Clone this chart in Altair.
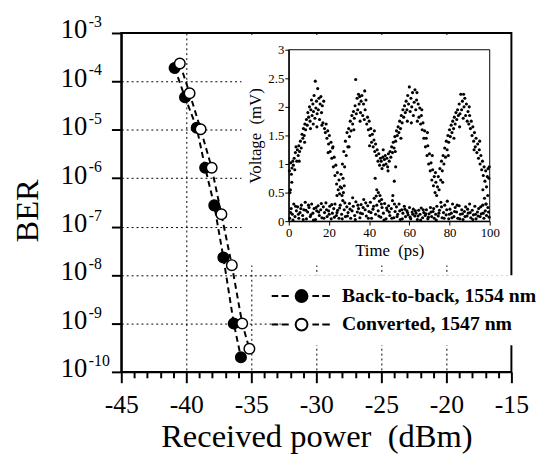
import altair as alt
import pandas as pd

# ---------------- main BER data ----------------
series_names = ["Back-to-back, 1554 nm", "Converted, 1547 nm"]
b2b_power = [-40.9, -40.1, -39.2, -38.55, -37.85, -37.15, -36.35, -35.8]
b2b_ber = [1.9e-4, 4.7e-5, 1.1e-5, 1.65e-6, 2.75e-7, 2.3e-8, 1.0e-9, 2.0e-10]
conv_power = [-40.5, -39.75, -38.9, -38.05, -37.3, -36.5, -35.7, -35.15]
conv_ber = [2.35e-4, 5.7e-5, 1.03e-5, 1.65e-6, 1.8e-7, 1.6e-8, 1.0e-9, 3.0e-10]

x_ticks = list(range(-45, -14))
y_decades = [1e-10, 1e-9, 1e-8, 1e-7, 1e-6, 1e-5, 1e-4, 1e-3]
y_exponents = ["-10", "-9", "-8", "-7", "-6", "-5", "-4", "-3"]

# ---------------- inset (waveform) data ----------------
inset_x_ticks = [0, 10, 20, 30, 40, 50, 60, 70, 80, 90, 100]
inset_y_ticks = [0, 0.5, 1, 1.5, 2, 2.5, 3]

inset_ones = [
    (0.3, 0.88), (0.8, 0.55), (1.0, 1.02), (1.3, 0.82), (1.6, 0.93), (2.0, 1.05), (2.3, 0.98), (2.7, 1.10),
    (3.0, 0.90), (3.3, 1.20), (3.6, 1.30), (4.0, 1.05), (4.3, 1.25), (4.7, 1.15), (5.0, 1.32), (5.4, 1.22),
    (5.8, 1.40), (6.2, 1.28), (6.6, 1.52), (7.0, 1.45), (7.3, 1.62), (7.7, 1.50), (8.0, 1.70), (8.4, 1.60),
    (8.8, 1.78), (9.2, 1.68), (9.5, 1.90), (9.9, 1.82), (10.3, 2.00), (10.6, 1.75),
    (11.0, 1.95), (11.3, 2.12), (11.6, 1.85), (12.0, 2.05), (12.3, 1.92), (12.6, 2.20), (13.0, 1.80),
    (13.2, 2.45), (13.5, 1.98), (13.8, 2.10), (14.1, 1.88), (14.4, 2.32), (14.7, 1.95), (15.0, 2.15),
    (15.3, 1.78), (15.6, 2.05), (16.0, 2.18), (16.3, 1.90), (16.7, 2.02), (17.0, 1.72),
    (17.4, 2.10), (17.8, 1.62), (18.2, 1.55), (18.6, 1.70), (19.0, 1.45), (19.4, 1.58), (19.8, 1.35),
    (20.2, 1.50), (20.6, 1.22), (21.0, 1.38), (21.4, 1.10), (21.8, 1.28), (22.2, 0.95), (22.6, 1.12),
    (23.0, 0.80), (23.4, 0.98), (23.8, 0.65), (24.2, 0.85), (24.6, 0.55), (25.0, 0.72), (25.3, 0.48), (25.6, 0.60),
    (26.0, 0.82), (26.3, 0.58), (26.7, 1.00), (27.0, 0.75), (27.4, 1.22), (27.8, 0.95), (28.2, 1.40),
    (28.6, 1.15), (29.0, 1.55), (29.4, 1.30), (29.8, 1.62), (30.2, 1.48), (30.6, 1.75), (31.0, 1.58),
    (31.4, 1.85), (31.8, 1.70), (32.2, 1.92), (32.6, 1.80), (33.0, 2.02), (33.3, 2.48), (33.6, 1.88),
    (34.0, 2.15), (34.3, 1.95), (34.7, 2.22), (35.0, 2.05), (35.3, 2.18), (35.7, 1.90), (36.0, 2.10),
    (36.4, 2.20), (36.8, 1.85), (37.2, 2.05), (37.6, 1.78), (38.0, 1.95), (38.4, 2.12), (38.8, 1.70),
    (39.2, 1.82), (39.6, 1.60), (40.0, 1.75), (40.4, 1.50), (40.8, 1.62), (41.2, 1.38), (41.6, 1.52),
    (42.0, 1.30), (42.4, 1.42), (42.8, 1.22), (43.2, 1.35), (43.6, 1.15), (44.0, 1.25), (44.4, 1.05),
    (44.8, 1.18), (45.2, 0.98), (45.6, 1.10),
    (46.0, 1.05), (46.4, 0.92), (46.8, 1.12), (47.2, 0.98), (47.6, 1.08), (48.0, 1.15), (48.4, 1.00),
    (48.8, 1.10), (49.2, 0.95), (49.6, 1.18), (50.0, 1.05), (50.4, 1.22), (50.8, 1.12),
    (51.2, 1.30), (51.6, 1.20), (52.0, 1.38), (52.4, 1.28), (52.8, 1.48), (53.2, 1.40), (53.6, 1.58),
    (54.0, 1.50), (54.4, 1.65), (54.8, 1.55), (55.2, 1.75), (55.6, 1.62), (56.0, 1.85), (56.4, 1.72),
    (56.8, 1.95), (57.2, 1.82), (57.6, 2.02), (58.0, 1.90),
    (58.4, 2.10), (58.8, 1.95), (59.2, 2.20), (59.6, 2.05), (60.0, 2.35), (60.4, 1.92), (60.8, 2.15),
    (61.2, 2.00), (61.6, 2.25), (62.0, 1.85), (62.4, 2.08), (62.8, 2.30), (63.2, 1.95), (63.6, 2.12),
    (64.0, 1.75), (64.4, 2.05), (64.8, 1.82), (65.2, 1.98),
    (65.6, 1.70), (66.0, 1.85), (66.4, 1.60), (66.8, 1.72), (67.2, 1.45), (67.6, 1.58), (68.0, 1.30),
    (68.4, 1.45), (68.8, 1.15), (69.2, 1.32), (69.6, 1.00), (70.0, 1.18), (70.4, 0.88), (70.8, 1.02),
    (71.2, 0.72), (71.6, 0.90), (72.0, 0.62), (72.4, 0.78), (72.8, 0.50), (73.2, 0.68), (73.6, 0.45),
    (74.0, 0.60), (74.4, 0.78), (74.8, 0.55), (75.2, 0.92), (75.6, 0.72), (76.0, 1.05), (76.4, 0.88),
    (76.8, 1.15), (77.2, 1.00), (77.6, 1.28), (78.0, 1.12), (78.4, 1.40), (78.8, 1.25), (79.2, 1.50),
    (79.6, 1.38), (80.0, 1.60), (80.4, 1.48), (80.8, 1.68), (81.2, 1.55), (81.6, 1.75), (82.0, 1.62),
    (82.4, 1.82), (82.8, 1.70), (83.2, 1.90), (83.6, 1.78), (84.0, 1.95), (84.4, 1.85),
    (84.8, 2.05), (85.2, 1.88), (85.6, 2.22), (86.0, 1.95), (86.4, 2.10), (86.8, 1.80), (87.2, 2.00),
    (87.6, 2.15), (88.0, 1.85), (88.4, 2.05), (88.8, 1.75), (89.2, 1.92), (89.6, 1.70),
    (90.0, 1.85), (90.4, 1.62), (90.8, 1.75), (91.2, 1.50), (91.6, 1.65), (92.0, 1.40), (92.4, 1.55),
    (92.8, 1.30), (93.2, 1.45), (93.6, 1.20), (94.0, 1.35), (94.4, 1.10), (94.8, 1.25), (95.2, 1.00),
    (95.6, 1.15), (96.0, 0.90), (96.4, 1.05), (96.8, 0.80), (97.2, 0.95), (97.6, 0.70), (98.0, 0.88),
    (98.4, 0.60), (98.8, 0.78), (99.2, 0.92), (99.6, 0.75),
    (5.2, 1.05), (7.9, 1.38), (10.8, 1.62), (12.2, 1.70), (14.0, 1.65), (16.5, 1.68), (19.6, 1.20),
    (22.0, 1.30), (24.0, 0.45), (27.6, 0.62), (30.0, 1.30), (32.4, 1.60), (35.5, 1.75), (37.8, 2.28),
    (40.2, 1.32), (42.6, 1.58), (47.0, 1.25), (49.4, 0.88), (53.0, 1.22), (55.8, 1.45), (59.0, 1.75),
    (61.0, 1.72), (63.8, 2.25), (66.2, 1.95), (69.0, 1.55), (71.4, 1.15), (73.0, 0.85), (76.6, 0.68),
    (79.4, 1.15), (82.2, 1.45), (85.0, 1.65), (87.0, 2.22), (89.8, 2.00), (92.2, 1.25), (95.0, 1.40),
]

inset_zeros = [
    (0.5, 0.05), (1.2, 0.22), (1.8, 0.12), (2.5, 0.30), (3.1, 0.08), (3.8, 0.18), (4.4, 0.25), (5.0, 0.05),
    (5.6, 0.15), (6.3, 0.28), (6.9, 0.10), (7.5, 0.20), (8.2, 0.33), (8.8, 0.04), (9.4, 0.16), (10.1, 0.24),
    (10.7, 0.08), (11.4, 0.30), (12.0, 0.14), (12.6, 0.22), (13.3, 0.03), (13.9, 0.18), (14.6, 0.27),
    (15.2, 0.10), (15.9, 0.20), (16.5, 0.06), (17.2, 0.25), (17.8, 0.15), (18.5, 0.32), (19.1, 0.08),
    (19.8, 0.18), (20.4, 0.26), (21.1, 0.04), (21.7, 0.14), (22.4, 0.22), (23.0, 0.30), (23.7, 0.10),
    (24.3, 0.19), (25.0, 0.05), (25.6, 0.28), (26.3, 0.12), (26.9, 0.36), (27.6, 0.20), (28.2, 0.08),
    (28.9, 0.25), (29.5, 0.15), (30.2, 0.31), (30.8, 0.05), (31.5, 0.18), (32.1, 0.26), (32.8, 0.10),
    (33.4, 0.34), (34.1, 0.16), (34.7, 0.22), (35.4, 0.06), (36.0, 0.29), (36.7, 0.13), (37.3, 0.38),
    (38.0, 0.20), (38.6, 0.09), (39.3, 0.27), (39.9, 0.17), (40.6, 0.33), (41.2, 0.05), (41.9, 0.21),
    (42.5, 0.40), (43.2, 0.12), (43.8, 0.28), (44.5, 0.18), (45.1, 0.35), (45.8, 0.07), (46.4, 0.24),
    (47.1, 0.14), (47.7, 0.31), (48.4, 0.04), (49.0, 0.19), (49.7, 0.27), (50.3, 0.10), (51.0, 0.22),
    (51.6, 0.36), (52.3, 0.06), (52.9, 0.17), (53.6, 0.25), (54.2, 0.12), (54.9, 0.30), (55.5, 0.03),
    (56.2, 0.20), (56.8, 0.14), (57.5, 0.26), (58.1, 0.08), (58.8, 0.18), (59.4, 0.11), (60.1, 0.24),
    (60.7, 0.04), (61.4, 0.16), (62.0, 0.21), (62.7, 0.09), (63.3, 0.14), (64.0, 0.03), (64.6, 0.19),
    (65.3, 0.12), (65.9, 0.23), (66.6, 0.06), (67.2, 0.15), (67.9, 0.10), (68.5, 0.20), (69.2, 0.04),
    (69.8, 0.13), (70.5, 0.24), (71.1, 0.08), (71.8, 0.17), (72.4, 0.05), (73.1, 0.12), (73.7, 0.26),
    (74.4, 0.09), (75.0, 0.19), (75.7, 0.33), (76.3, 0.06), (77.0, 0.15), (77.6, 0.28), (78.3, 0.11),
    (78.9, 0.35), (79.6, 0.04), (80.2, 0.21), (80.9, 0.14), (81.5, 0.30), (82.2, 0.08), (82.8, 0.24),
    (83.5, 0.16), (84.1, 0.05), (84.8, 0.27), (85.4, 0.12), (86.1, 0.20), (86.7, 0.03), (87.4, 0.17),
    (88.0, 0.25), (88.7, 0.09), (89.3, 0.14), (90.0, 0.30), (90.6, 0.06), (91.3, 0.19), (91.9, 0.11),
    (92.6, 0.26), (93.2, 0.04), (93.9, 0.16), (94.5, 0.22), (95.2, 0.08), (95.8, 0.13), (96.5, 0.28),
    (97.1, 0.05), (97.8, 0.18), (98.4, 0.10), (99.1, 0.24), (99.7, 0.07),
    (0.9, 0.15), (2.1, 0.02), (3.4, 0.26), (4.8, 0.12), (6.0, 0.22), (7.2, 0.03), (8.5, 0.19), (9.8, 0.28),
    (11.0, 0.11), (12.3, 0.02), (13.6, 0.24), (14.9, 0.16), (16.2, 0.31), (17.5, 0.05), (18.8, 0.20),
    (20.1, 0.12), (21.4, 0.29), (22.7, 0.07), (24.0, 0.15), (25.3, 0.23), (26.6, 0.04), (27.9, 0.32),
    (29.2, 0.09), (30.5, 0.21), (31.8, 0.41), (33.1, 0.03), (34.4, 0.28), (35.7, 0.14), (37.0, 0.24),
    (38.3, 0.32), (39.6, 0.05), (40.9, 0.15), (42.2, 0.26), (43.5, 0.44), (44.8, 0.09), (46.1, 0.30),
    (47.4, 0.02), (48.7, 0.23), (50.0, 0.16), (51.3, 0.05), (52.6, 0.30), (53.9, 0.08), (55.2, 0.18),
    (56.5, 0.04), (57.8, 0.21), (59.1, 0.15), (60.4, 0.07), (61.7, 0.12), (63.0, 0.18), (64.3, 0.09),
    (65.6, 0.02), (66.9, 0.20), (68.2, 0.13), (69.5, 0.07), (70.8, 0.16), (72.1, 0.22), (73.4, 0.02),
    (74.7, 0.14), (76.0, 0.25), (77.3, 0.05), (78.6, 0.20), (79.9, 0.12), (81.2, 0.06), (82.5, 0.17),
    (83.8, 0.28), (85.1, 0.04), (86.4, 0.13), (87.7, 0.08), (89.0, 0.21), (90.3, 0.15), (91.6, 0.03),
    (92.9, 0.12), (94.2, 0.09), (95.5, 0.25), (96.8, 0.14), (98.1, 0.30), (99.4, 0.16),
]

inset_edges = [
    (0.6, 0.50), (1.5, 0.68), (26.5, 0.45), (27.2, 0.50), (43.0, 0.75), (43.8, 0.55), (44.6, 0.50),
    (45.4, 0.45), (46.2, 0.38), (51.8, 0.45), (52.5, 0.70), (53.2, 0.95), (96.6, 0.55), (97.4, 0.40),
    (98.2, 0.30), (99.0, 0.45), (99.8, 0.95),
]

# ---------------- frames ----------------
main_df = pd.DataFrame({
    "power": b2b_power + conv_power,
    "BER": b2b_ber + conv_ber,
    "series": [series_names[0]] * len(b2b_power) + [series_names[1]] * len(conv_power),
})
exp_df = pd.DataFrame({"BER": y_decades, "exponent": y_exponents})
wave = inset_ones + inset_zeros + inset_edges
wave_df = pd.DataFrame({"t": [p[0] for p in wave], "v": [p[1] for p in wave]})
one_row = pd.DataFrame({"k": [0]})

SERIF = "Liberation Serif"
NBSP = "\u00a0"

x_scale = alt.Scale(domain=[-45, -15], nice=False, zero=False)
y_scale = alt.Scale(type="log", domain=[1e-10, 1e-3], nice=False)

x_axis = alt.Axis(
    values=x_ticks,
    labelExpr="datum.value % 5 === 0 ? '' + datum.value : ''",
    tickSize={"condition": {"test": "datum.value % 5 === 0", "value": 11}, "value": 6},
    tickWidth=2, domainWidth=2, labelFontSize=26, labelPadding=9,
    labelFlush=False, labelOverlap=False,
    grid=True, gridDash=[2, 3], gridColor="black", gridWidth=1,
    gridOpacity={"condition": {"test": "datum.value % 5 === 0 && datum.value > -45 && datum.value < -15",
                               "value": 1}, "value": 0},
    title="Received power" + NBSP + " (dBm)", titleFontSize=33, titleY=76, titleBaseline="alphabetic",
)
y_axis = alt.Axis(
    values=y_decades, labelExpr="'10'",
    tickSize=10, tickWidth=2, domainWidth=2, labelFontSize=27, labelPadding=25, labelOffset=-3,
    labelOverlap=False, labelFlush=False,
    grid=True, gridDash=[2, 3], gridColor="black", gridWidth=1,
    gridOpacity={"condition": {"test": "datum.value > 2e-10 && datum.value < 5e-4", "value": 1}, "value": 0},
    title="BER", titleFontSize=33, titleX=-95, titleY=180, titleBaseline="middle", titleAlign="center",
)

legend_symbol = ("M-5.05,0L-3.95,0M-3.38,0L-2.17,0M1.83,0L2.95,0M3.5,0L4.78,0"
                 "M1,0A1,1,0,1,1,-1,0A1,1,0,1,1,1,0Z")

lines = alt.Chart(main_df).mark_line(color="black", strokeDash=[6, 4], strokeWidth=2).encode(
    x=alt.X("power:Q", scale=x_scale, axis=x_axis),
    y=alt.Y("BER:Q", scale=y_scale, axis=y_axis),
    detail="series:N",
)
points = alt.Chart(main_df).mark_point(filled=True, size=115, stroke="black", strokeWidth=1.5, opacity=1).encode(
    x=alt.X("power:Q", scale=x_scale, axis=x_axis),
    y=alt.Y("BER:Q", scale=y_scale, axis=y_axis),
    fill=alt.Fill("series:N", scale=alt.Scale(domain=series_names, range=["black", "white"]),
                  legend=alt.Legend(
                      orient="none", legendX=162, legendY=246, title=None,
                      symbolType=legend_symbol, symbolSize=144, symbolStrokeColor="black",
                      symbolStrokeWidth=2, symbolOpacity=1,
                      labelFont=SERIF, labelFontSize=20, labelFontWeight="bold", labelColor="black",
                      labelLimit=400, labelOffset=31, rowPadding=9, padding=11, fillColor="white",
                  )),
)
exps = alt.Chart(exp_df).mark_text(align="left", baseline="middle", dy=-11, font=SERIF,
                                   fontSize=16, color="black").encode(
    x=alt.value(-33),
    y=alt.Y("BER:Q", scale=y_scale, axis=y_axis),
    text="exponent:N",
)
main = alt.layer(lines, points, exps)

tx_scale = alt.Scale(domain=[0, 100], range=[170, 374], nice=False, zero=False)
ty_scale = alt.Scale(domain=[0, 3], range=[191, 17], nice=False, zero=False)
tx_axis = alt.Axis(
    orient="bottom", offset=-153, values=inset_x_ticks,
    labelExpr="datum.value % 20 === 0 ? '' + datum.value : ''",
    tickSize=4, tickWidth=1, domainWidth=1.2, labelFontSize=13, labelPadding=2,
    labelFlush=False, labelOverlap=False, grid=False,
    title="Time" + NBSP + " (ps)", titleFontSize=17, titleFontWeight="normal", titlePadding=3, zindex=1,
)
ty_axis = alt.Axis(
    orient="left", offset=-170, values=inset_y_ticks, labelExpr="'' + datum.value",
    tickSize=4, tickWidth=1, domainWidth=1.2, labelFontSize=13, labelPadding=1,
    labelFlush=False, labelOverlap=False, grid=False,
    title="Voltage" + NBSP + " (mV)", titleFontSize=17, titleFontWeight="normal", titlePadding=3, zindex=1,
)

panel = alt.Chart(one_row).mark_rect(color="white").encode(
    x=alt.value(122), x2=alt.value(394), y=alt.value(2), y2=alt.value(236),
)
scatter = alt.Chart(wave_df).mark_circle(size=10, color="black", opacity=1).encode(
    x=alt.X("t:Q", scale=tx_scale, axis=tx_axis),
    y=alt.Y("v:Q", scale=ty_scale, axis=ty_axis),
)
frame = alt.Chart(one_row).mark_rect(fillOpacity=0, stroke="black", strokeWidth=1).encode(
    x=alt.datum(0), x2=alt.datum(100), y=alt.datum(0), y2=alt.datum(3),
)
inset = alt.layer(panel, scatter, frame)

chart = alt.layer(main, inset).resolve_scale(x="independent", y="independent").properties(
    width=396, height=344,
    autosize=alt.AutoSizeParams(type="none"),
    padding={"left": 115, "top": 22, "right": 27, "bottom": 80},
).configure_view(stroke="black", strokeWidth=2).configure_axis(
    labelFont=SERIF, titleFont=SERIF, labelColor="black", titleColor="black",
    domainColor="black", tickColor="black", titleFontWeight="normal",
)

chart.save("out.html", embed_options={"renderer": "svg", "actions": False})
